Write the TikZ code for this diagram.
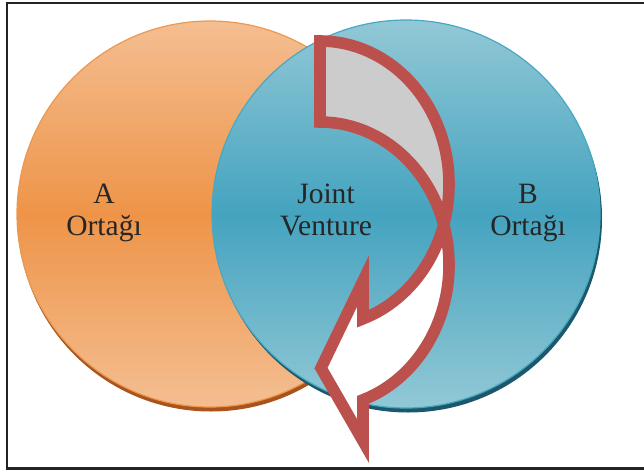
\documentclass[tikz,border=0pt]{standalone}
\usepackage{fontspec}
\setmainfont{Liberation Serif}
\usepackage{xcolor}

\definecolor{ortakA}{RGB}{238,148,72}
\definecolor{ortakAacik}{RGB}{244,190,145}
\definecolor{ortakAkenar}{RGB}{236,152,80}
\definecolor{ortakAgolge}{RGB}{168,84,28}
\definecolor{ortakB}{RGB}{68,163,191}
\definecolor{ortakBacik}{RGB}{146,200,214}
\definecolor{ortakBkenar}{RGB}{72,168,196}
\definecolor{ortakBgolge}{RGB}{28,88,108}
\definecolor{okkirmizi}{RGB}{188,80,77}
\definecolor{okgri}{RGB}{204,204,204}
\definecolor{cerceve}{RGB}{35,35,35}

\begin{document}
\begin{tikzpicture}[x=0.025cm, y=0.025cm,
        yazi/.style={align=center, font=\fontsize{21}{22.8}\selectfont, text=black!85, inner sep=0pt},
        ok/.style={draw=okkirmizi, line width=0.29cm, line join=miter, line cap=round}]
        \useasboundingbox (0,0) rectangle (644,470);
        \clip (0,0) rectangle (644,470);
        \draw[cerceve, line width=0.0625cm] (7,1.5) rectangle (700,467);

        % A ortagi
        \fill[ortakAgolge] (211,251.5) circle (193);
        \draw[ortakAkenar, line width=0.03cm, top color=ortakAacik, bottom color=ortakAacik, middle color=ortakA] (210,256) circle (193);

        % B ortagi
        \fill[ortakBgolge] (408,251.5) circle (194);
        \draw[ortakBkenar, line width=0.03cm, top color=ortakBacik, bottom color=ortakBacik, middle color=ortakB] (406,256) circle (194);

        % kavisli ok: arka yuz gri, on yuz beyaz
        \coordinate (kesisim) at (443.7,245.5);
        \fill[okgri] (320,429) arc[start angle=90, end angle=-16.45, x radius=129, y radius=143]
            arc[start angle=16.45, end angle=90, x radius=129, y radius=143] -- cycle;
        \fill[white] (kesisim) arc[start angle=16.45, end angle=-70.53, x radius=129, y radius=143]
            -- (363,29) -- (321,102) -- (363,189) -- (363,151.2)
            arc[start angle=-70.53, end angle=-16.45, x radius=129, y radius=143] -- cycle;
        \draw[ok] (kesisim) arc[start angle=16.45, end angle=90, x radius=129, y radius=143]
            -- (320,429) arc[start angle=90, end angle=-16.45, x radius=129, y radius=143];
        \draw[ok] (kesisim) arc[start angle=16.45, end angle=-70.53, x radius=129, y radius=143]
            -- (363,29) -- (321,102) -- (363,189) -- (363,151.2)
            arc[start angle=-70.53, end angle=-16.45, x radius=129, y radius=143];

        \node[yazi] (yaziA) at (104,257) {A\\Ortağı};
        \node[yazi] (yaziJV) at (326,260.5) {Joint\\Venture};
        \node[yazi] (yaziB) at (528,257) {B\\Ortağı};
    \end{tikzpicture}
\end{document}
